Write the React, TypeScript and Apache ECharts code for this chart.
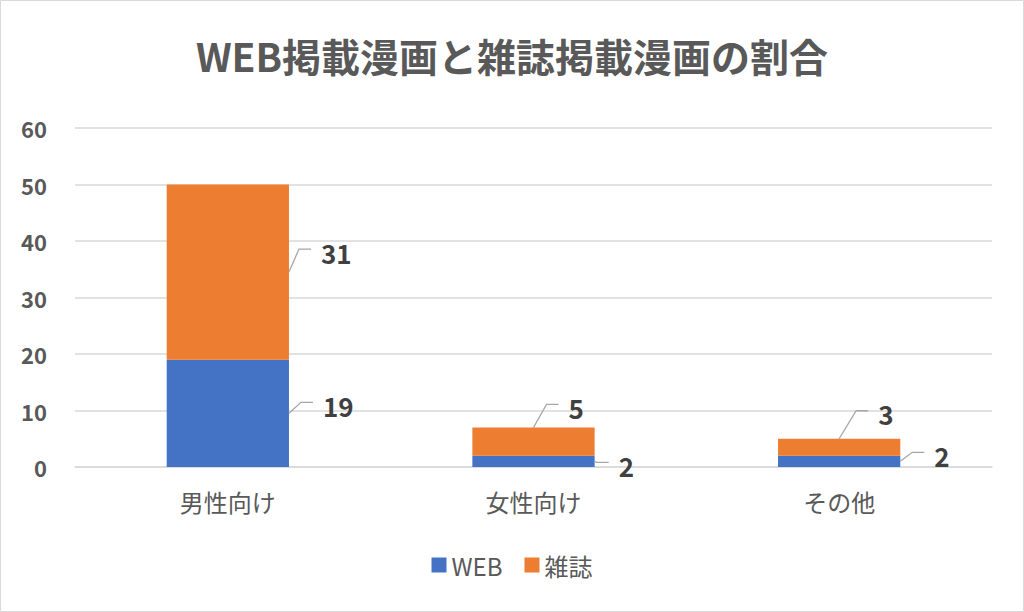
import { useEffect, useRef } from 'react';
import * as echarts from 'echarts';

const categories = ['男性向け', '女性向け', 'その他'];
const webValues = [19, 2, 2];
const magazineValues = [31, 5, 3];
const seriesNames = ['WEB', '雑誌'];

// callout placement for each value label: anchor on the bar + offset of the text (px)
const webCallouts = [
  { anchor: 'right', dx: 34, dy: -8 },
  { anchor: 'right', dx: 24, dy: 4 },
  { anchor: 'right', dx: 34, dy: -6 },
];
const magazineCallouts = [
  { anchor: 'right', dx: 32, dy: -20 },
  { anchor: 'top', dx: 35, dy: -20 },
  { anchor: 'top', dx: 39, dy: -25 },
];

const FONT = '"Noto Sans CJK JP", "Noto Sans", sans-serif';

export default function App() {
  const chartRef = useRef(null);

  useEffect(() => {
    document.body.style.margin = '0';
    const chart = echarts.init(chartRef.current, null, { renderer: 'svg' });

    // one callout per bar segment, built from the data arrays
    const callouts: any[] = [];
    categories.forEach((_, i) => {
      callouts.push({ cat: i, lo: 0, hi: webValues[i], val: webValues[i], ...webCallouts[i] });
      callouts.push({
        cat: i,
        lo: webValues[i],
        hi: webValues[i] + magazineValues[i],
        val: magazineValues[i],
        ...magazineCallouts[i],
      });
    });

    const renderCallout = (params: any, api: any) => {
      const c = callouts[params.dataIndex];
      const band = api.size([1, 0])[0];
      const center = api.coord([c.cat, 0])[0];
      let ax: number;
      let ay: number;
      if (c.anchor === 'top') {
        ax = center;
        ay = api.coord([c.cat, c.hi])[1];
      } else {
        ax = center + band * 0.2;
        ay = api.coord([c.cat, (c.lo + c.hi) / 2])[1];
      }
      const tx = ax + c.dx;
      const ty = ay + c.dy;
      const endX = tx - 10;
      const lineY = ty - 3;
      return {
        type: 'group',
        children: [
          {
            type: 'polyline',
            shape: { points: [[ax, ay], [endX - 12, lineY], [endX, lineY]] },
            style: { stroke: '#a6a6a6', lineWidth: 1.3, fill: 'none' },
          },
          {
            type: 'text',
            x: tx,
            y: ty,
            style: {
              text: String(c.val),
              fill: '#404040',
              fontSize: 26,
              fontWeight: 'bold',
              fontFamily: FONT,
              align: 'left',
              verticalAlign: 'middle',
            },
          },
        ],
      };
    };

    const option = {
      animation: false,
      backgroundColor: '#ffffff',
      textStyle: { fontFamily: FONT },
      title: {
        text: 'WEB掲載漫画と雑誌掲載漫画の割合',
        left: 'center',
        top: 30,
        textStyle: { fontSize: 39, fontWeight: 'bold', color: '#595959', fontFamily: FONT },
      },
      legend: {
        data: seriesNames,
        bottom: 30,
        left: 'center',
        itemWidth: 15,
        itemHeight: 15,
        itemGap: 22,
        icon: 'rect',
        textStyle: { fontSize: 24, color: '#595959', fontFamily: FONT },
      },
      grid: { left: 75, right: 32, top: 128, bottom: 145, containLabel: false },
      xAxis: {
        type: 'category',
        data: categories,
        axisLine: { show: true, lineStyle: { color: '#d9d9d9', width: 1.5 } },
        axisTick: { show: false },
        axisLabel: { fontSize: 24, color: '#595959', margin: 22, fontFamily: FONT },
      },
      yAxis: {
        type: 'value',
        min: 0,
        max: 60,
        interval: 10,
        axisLine: { show: false },
        axisTick: { show: false },
        axisLabel: { fontSize: 22, fontWeight: 'bold', color: '#595959', margin: 28, fontFamily: FONT },
        splitLine: { lineStyle: { color: '#d9d9d9', width: 1.5 } },
      },
      series: [
        {
          name: seriesNames[0],
          type: 'bar',
          stack: 'total',
          barWidth: '40%',
          itemStyle: { color: '#4472c4' },
          data: webValues,
        },
        {
          name: seriesNames[1],
          type: 'bar',
          stack: 'total',
          barWidth: '40%',
          itemStyle: { color: '#ed7d31' },
          data: magazineValues,
        },
        {
          name: 'labels',
          type: 'custom',
          z: 5,
          silent: true,
          clip: false,
          data: callouts.map((c) => [c.cat, c.lo, c.hi]),
          encode: { x: 0, y: [1, 2] },
          renderItem: renderCallout,
        },
      ],
      graphic: [
        {
          type: 'rect',
          shape: { x: 0.5, y: 0.5, width: 1023, height: 611 },
          style: { fill: 'none', stroke: '#d9d9d9', lineWidth: 1 },
          silent: true,
        },
      ],
    };

    chart.setOption(option);
    return () => {
      chart.dispose();
    };
  }, []);

  return <div ref={chartRef} style={{ width: '1024px', height: '612px' }} />;
}
